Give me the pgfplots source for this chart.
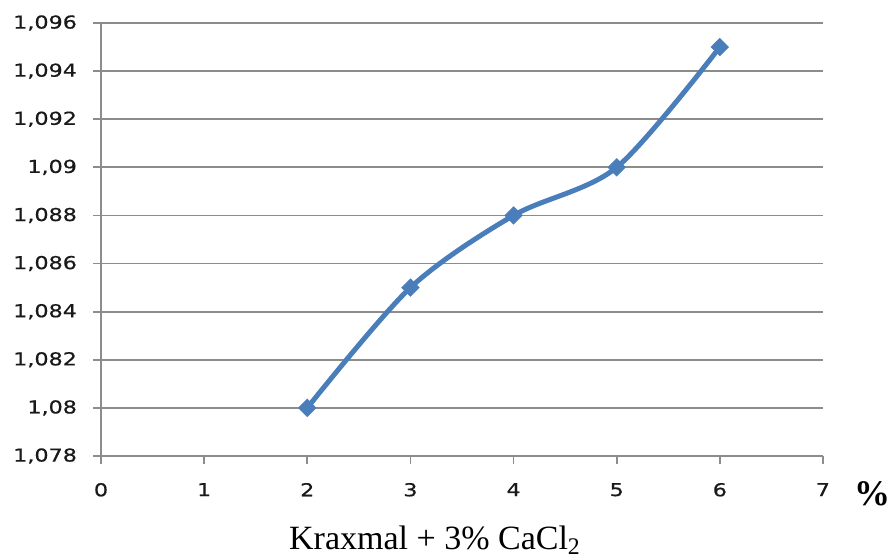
\documentclass[border=0pt]{standalone}
\usepackage{pgfplots}
\pgfplotsset{compat=1.18}
\usepackage{fontspec}
\setmainfont{Liberation Serif}
\newfontfamily\tickfont[FakeStretch=1.25, FakeBold=0.6]{DejaVu Sans}
\definecolor{lineblue}{RGB}{74,126,187}
\definecolor{gridgray}{RGB}{140,140,140}
\begin{document}
\begin{tikzpicture}
\useasboundingbox (-50.5pt,-52pt) rectangle (394pt,228pt);
\begin{axis}[
  at={(0,0)}, anchor=south west,
  scale only axis,
  width=361pt, height=216.5pt,
  xmin=0, xmax=7, ymin=1.078, ymax=1.096,
  xtick={0,1,...,7},
  ytick={1.078,1.080,...,1.0965},
  axis lines*=left,
  axis line style={gridgray, line width=0.9pt, -},
  tick align=outside,
  major tick length=4pt,
  tick style={gridgray, line width=0.9pt},
  ymajorgrids,
  major grid style={gridgray, line width=0.9pt},
  /pgf/number format/assume math mode=true,
  ticklabel style={font=\tickfont\fontsize{8.9}{10}\selectfont, text=black!90},
  yticklabel style={xshift=-4.5pt, /pgf/number format/fixed, /pgf/number format/precision=3, /pgf/number format/use comma},
  xticklabel style={yshift=-6pt},
  scaled y ticks=false,
  clip=false,
]
\addplot[lineblue, line width=2.5pt, smooth, tension=0.5, mark=square*, mark size=3pt, mark options={rotate=45, fill=lineblue, line width=0.5pt}]
  coordinates {(2,1.080) (3,1.085) (4,1.088) (5,1.090) (6,1.095)};
\end{axis}
\node[font=\bfseries\fontsize{18}{20}\selectfont] at (385.5pt,-19pt) {\%};
\node[font=\fontsize{17}{19}\selectfont] at (167pt,-42pt) {Kraxmal + 3\% CaCl\textsubscript{2}};
\end{tikzpicture}
\end{document}
